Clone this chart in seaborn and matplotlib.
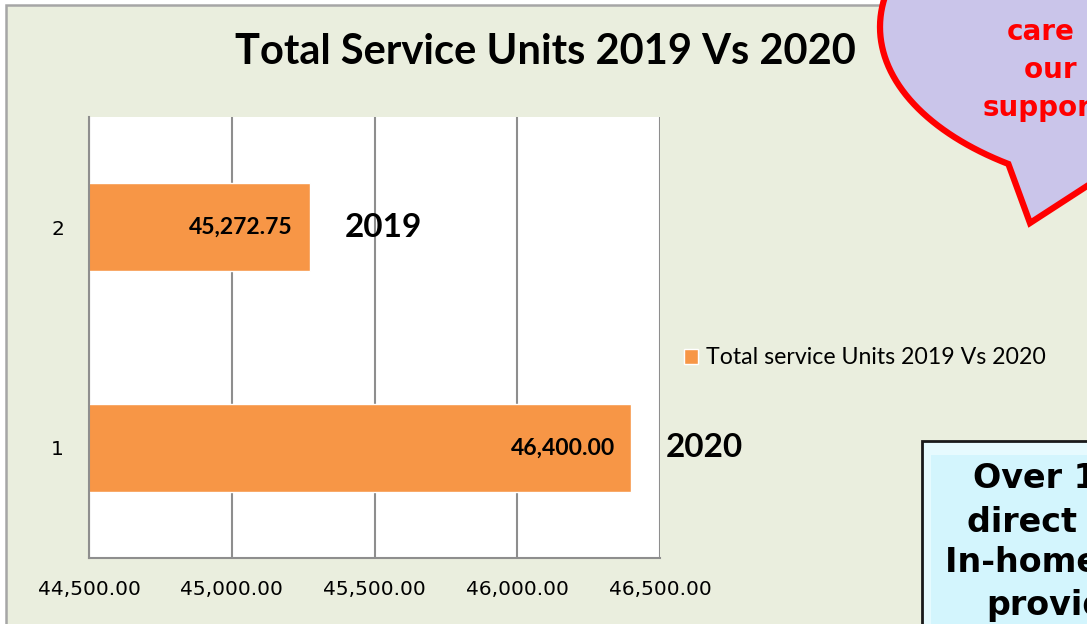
import numpy as np
import pandas as pd
import seaborn as sns
import matplotlib.pyplot as plt
from matplotlib.patches import Rectangle, Polygon, Patch

groups = ['2', '1']
values = [45272.75, 46400.00]
years = ['2019', '2020']
x_ticks = [44500, 45000, 45500, 46000, 46500]
title = 'Total Service Units 2019 Vs 2020'
legend_label = 'Total service Units 2019 Vs 2020'
bubble_lines = ['care', 'our staff', 'support']
box_lines = ['Over 100', 'direct services', 'In-home services', 'provided']

ORANGE = '#F79646'
BG = '#EAEEDE'
GRID = '#8E8E8E'

sns.set_style('white')
plt.rcParams['font.family'] = ['Lato', 'DejaVu Sans']
plt.rcParams['text.color'] = 'black'
plt.rcParams['xtick.labelcolor'] = 'black'
plt.rcParams['ytick.labelcolor'] = 'black'

W, H = 1087, 624
fig = plt.figure(figsize=(W / 100, H / 100), dpi=100)
fig.patch.set_facecolor('white')

# background slide / chart frame (pixel coordinates)
bg = fig.add_axes([0, 0, 1, 1], zorder=0)
bg.set_xlim(0, W)
bg.set_ylim(H, 0)
bg.axis('off')
bg.add_patch(Rectangle((6, 5), W + 20, H + 20, facecolor=BG, edgecolor='#A6A6A6', lw=1.8))

df = pd.DataFrame({'group': groups, 'value': values, 'year': years})

ax = fig.add_axes([89 / W, 1 - 558 / H, 571 / W, 441 / H], zorder=1)
ax.set_facecolor('white')
sns.barplot(data=df, x='value', y='group', order=groups, orient='h', color=ORANGE,
            width=0.4, saturation=1, ax=ax)
ax.set_xlim(x_ticks[0], x_ticks[-1])
ax.set_ylim(1.5, -0.5)
ax.set_xticks(x_ticks)
ax.set_xticklabels([f'{t:,.2f}' for t in x_ticks], family='DejaVu Sans', fontsize=14.5)
ax.set_yticks(range(len(groups)))
ax.set_yticklabels(groups, family='DejaVu Sans', fontsize=14.5)
ax.set_yticks([-0.5, 0.5, 1.5], minor=True)
ax.tick_params(axis='y', which='major', length=0, pad=18)
ax.tick_params(axis='y', which='minor', length=8, width=1.5, color=GRID)
ax.tick_params(axis='x', length=8, width=1.5, color=GRID, pad=8)
ax.grid(axis='x', color=GRID, lw=1.5)
ax.set_axisbelow(True)
for side in ['top', 'right']:
    ax.spines[side].set_visible(False)
for side in ['left', 'bottom']:
    ax.spines[side].set_color(GRID)
    ax.spines[side].set_linewidth(1.5)
ax.set_xlabel('')
ax.set_ylabel('')

for i, (v, yr) in enumerate(zip(values, years)):
    ax.annotate(f'{v:,.2f}', xy=(v, i), xytext=(-12, 0), textcoords='offset points',
                ha='right', va='center', fontsize=16.5, fontweight='bold', color='black')
    ax.annotate(yr, xy=(v, i), xytext=(25, 0), textcoords='offset points',
                ha='left', va='center', fontsize=24, fontweight='bold', color='black',
                annotation_clip=False)

fig.text(545 / W, 1 - 52 / H, title, ha='center', va='center', fontsize=30,
         fontweight='bold', color='black')

fig.legend(handles=[Patch(facecolor=ORANGE, label=legend_label)],
           loc='center left', bbox_to_anchor=(675 / W, 1 - 358 / H), frameon=False,
           fontsize=16.7, handlelength=0.6, handleheight=0.6, handletextpad=0.35,
           borderaxespad=0, labelcolor='black')

# foreground shapes: speech bubble and text box
fg = fig.add_axes([0, 0, 1, 1], zorder=3)
fg.set_xlim(0, W)
fg.set_ylim(H, 0)
fg.axis('off')
fg.patch.set_alpha(0)

t = np.radians(np.linspace(124.9, 468, 200))
pts = np.column_stack([1180 + 300 * np.cos(t), 27 + 167 * np.sin(t)])
pts = np.vstack([pts, [[1030, 223]]])
fg.add_patch(Polygon(pts, closed=True, facecolor='#CAC5EA', edgecolor='#FF0000', lw=4.5,
                     joinstyle='miter'))
for txt, x, y in zip(bubble_lines, [1007, 1024, 983], [32, 70, 108]):
    fg.text(x, y, txt, ha='left', va='center', color='#FF0000', fontsize=20,
            fontweight='bold', family='DejaVu Sans')

fg.add_patch(Rectangle((922, 441), 200, 220, facecolor='#D3F5FD', edgecolor='#1A1A1A', lw=2))
fg.add_patch(Polygon([[924, 443], [1090, 443], [1090, 455], [931, 455], [931, 630], [924, 630]],
                     closed=True, facecolor='#E6FAFE', edgecolor='none'))
for txt, x, y in zip(box_lines, [973, 967, 945, 986], [478, 522, 563, 606]):
    fg.text(x, y, txt, ha='left', va='center', color='black', fontsize=24,
            fontweight='bold', family='DejaVu Sans')

fig.savefig('out.png', dpi=100)
